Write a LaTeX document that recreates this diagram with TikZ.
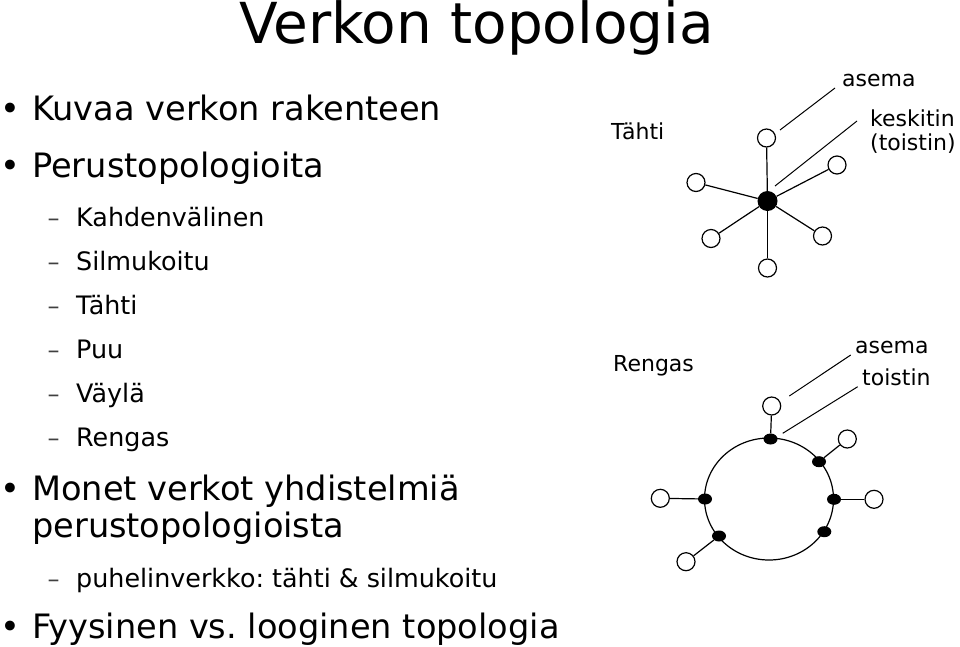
\documentclass[tikz,border=0pt]{standalone}
\usepackage{fontspec}
\setmainfont{DejaVu Sans}
\usetikzlibrary{shapes.geometric}
\frenchspacing
\begin{document}
\begin{tikzpicture}[x=1pt,y=-1pt,
  station/.style={circle,draw,line width=1.2pt,minimum size=18pt,inner sep=0pt,fill=white},
  hub/.style={circle,fill=black,minimum size=20pt,inner sep=0pt},
  rep/.style={ellipse,fill=black,minimum width=14pt,minimum height=11pt,inner sep=0pt},
  link/.style={line width=1.2pt},
  ringline/.style={line width=1.2pt},
  leader/.style={line width=1pt},
  titletext/.style={anchor=base,inner sep=0pt,font=\fontsize{56.5}{60}\selectfont},
  bigtext/.style={anchor=base west,inner sep=0pt,font=\fontsize{33.6}{40}\selectfont},
  subtext/.style={anchor=base west,inner sep=0pt,font=\fontsize{25.4}{30}\selectfont},
  dashtext/.style={anchor=base west,inner sep=0pt,font=\fontsize{24}{30}\selectfont,text=black!75},
  lbl/.style={anchor=base west,inner sep=0pt,font=\fontsize{22}{26}\selectfont}]
\useasboundingbox (0,0) rectangle (960,646);

% title
\node[titletext] (title) at (476.5,43) {Verkon topologia};

% bullets
\node[bigtext] (b1) at (0,120) {•};
\node[bigtext] (t1) at (32,120) {Kuvaa verkon rakenteen};
\node[bigtext] (b2) at (0,177) {•};
\node[bigtext] (t2) at (32,177) {Perustopologioita};
\node[dashtext] (d1) at (47.5,226) {–};
\node[subtext] (s1) at (76,226) {Kahdenvälinen};
\node[dashtext] (d2) at (47.5,270) {–};
\node[subtext] (s2) at (76,270) {Silmukoitu};
\node[dashtext] (d3) at (47.5,314) {–};
\node[subtext] (s3) at (76,314) {Tähti};
\node[dashtext] (d4) at (47.5,358) {–};
\node[subtext] (s4) at (76,358) {Puu};
\node[dashtext] (d5) at (47.5,402) {–};
\node[subtext] (s5) at (76,402) {Väylä};
\node[dashtext] (d6) at (47.5,446) {–};
\node[subtext] (s6) at (76,446) {Rengas};
\node[bigtext] (b3) at (0,500) {•};
\node[bigtext] (t3) at (32,500) {Monet verkot yhdistelmiä};
\node[bigtext] (t3b) at (32,537) {perustopologioista};
\node[dashtext] (d7) at (47.5,587) {–};
\node[subtext] (s7) at (76,587) {puhelinverkko: tähti \& silmukoitu};
\node[bigtext] (b4) at (0,638) {•};
\node[bigtext] (t4) at (32,638) {Fyysinen vs. looginen topologia};

% star
\node[lbl] (starlbl) at (611,139) {Tähti};
\node[lbl] (asema1) at (842,86) {asema};
\node[lbl] (kesk) at (870,126) {keskitin};
\node[lbl] (toist1) at (870,150) {(toistin)};
\node[hub] (hub) at (767.5,201) {};
\node[station] (sa) at (766.5,138) {};
\node[station] (sb) at (696,182.5) {};
\node[station] (sc) at (837,165) {};
\node[station] (sd) at (711,238.5) {};
\node[station] (se) at (822.5,236) {};
\node[station] (sf) at (767.5,268) {};
\foreach \s in {sa,sb,sc,sd,se,sf} \draw[link] (hub) -- (\s);
\coordinate (la1) at (780,130);
\coordinate (la2) at (835,88);
\coordinate (lk1) at (775,186);
\coordinate (lk2) at (857,121);
\draw[leader] (la1) -- (la2);
\draw[leader] (lk1) -- (lk2);

% ring
\node[lbl] (ringlbl) at (613,371) {Rengas};
\node[lbl] (asema2) at (855,353) {asema};
\node[lbl] (toist2) at (862,385) {toistin};
\draw[ringline] (769,499) ellipse [x radius=64.5, y radius=61];
\node[rep] (ra) at (770.5,439) {};
\node[rep] (rb) at (819,461.7) {};
\node[rep] (rc) at (834,499.3) {};
\node[rep] (rd) at (824.3,531.7) {};
\node[rep] (re) at (719,536) {};
\node[rep] (rf) at (705,499) {};
\node[station] (ta) at (771.7,406) {};
\node[station] (tb) at (847.3,439) {};
\node[station] (tc) at (874,499.3) {};
\node[station] (te) at (686,561.7) {};
\node[station] (tf) at (660.3,498.3) {};
\draw[link] (ta) -- (ra);
\draw[link] (tb) -- (rb);
\draw[link] (tc) -- (rc);
\draw[link] (te) -- (re);
\draw[link] (tf) -- (rf);
\coordinate (lra1) at (789.3,396);
\coordinate (lra2) at (850.7,355);
\coordinate (lrt1) at (782.7,433.3);
\coordinate (lrt2) at (857.7,386.7);
\draw[leader] (lra1) -- (lra2);
\draw[leader] (lrt1) -- (lrt2);
\end{tikzpicture}
\end{document}
